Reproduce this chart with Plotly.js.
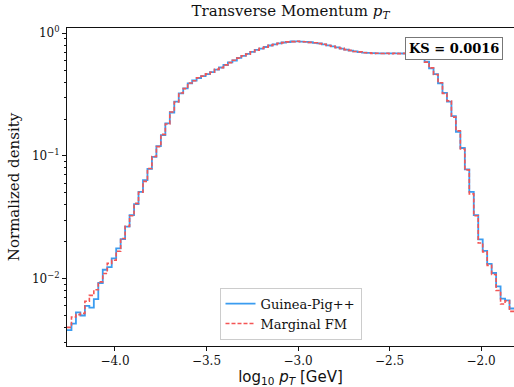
<!DOCTYPE html>
<html>
<head>
<meta charset="utf-8">
<script src="https://cdn.plot.ly/plotly-3.0.1.min.js"></script>
<style>html,body{margin:0;padding:0;background:#fff;}#chart{width:514px;height:387px;}</style>
</head>
<body>
<div id="chart"></div>
<script>
// Histogram binning (log10 pT)
const binLo = -4.262;
const binHi = -1.82;
const nBins = 100;

// Normalized density per bin: Guinea-Pig++
const guineaPig = [
  0.0038, 0.0043, 0.0053, 0.0050, 0.0060, 0.0058, 0.0068, 0.0092, 0.0118, 0.0124,
  0.0146, 0.0176, 0.0210, 0.0265, 0.0329, 0.0404, 0.0509, 0.0634, 0.0785, 0.0984,
  0.120, 0.148, 0.184, 0.226, 0.277, 0.324, 0.356, 0.391, 0.412, 0.432,
  0.448, 0.465, 0.483, 0.506, 0.526, 0.551, 0.578, 0.600, 0.629, 0.653,
  0.678, 0.704, 0.731, 0.751, 0.773, 0.795, 0.811, 0.826, 0.841, 0.849,
  0.857, 0.858, 0.855, 0.851, 0.845, 0.836, 0.826, 0.812, 0.797, 0.782,
  0.766, 0.751, 0.737, 0.723, 0.712, 0.703, 0.696, 0.691, 0.688, 0.686,
  0.686, 0.685, 0.685, 0.686, 0.685, 0.684, 0.680, 0.672, 0.655, 0.627,
  0.586, 0.518, 0.465, 0.391, 0.327, 0.277, 0.211, 0.157, 0.116, 0.0776,
  0.0509, 0.0329, 0.0209, 0.0168, 0.0132, 0.0111, 0.00865, 0.00687, 0.00665, 0.0057
];

// Normalized density per bin: Marginal FM
const marginalFM = [
  0.0040, 0.00486, 0.00508, 0.0052, 0.00653, 0.0073, 0.0081, 0.0094, 0.0110, 0.0133,
  0.0141, 0.0167, 0.0212, 0.0267, 0.0325, 0.0410, 0.0505, 0.0620, 0.0790, 0.0990,
  0.119, 0.150, 0.182, 0.228, 0.275, 0.326, 0.354, 0.393, 0.410, 0.434,
  0.447, 0.467, 0.481, 0.508, 0.524, 0.553, 0.576, 0.602, 0.627, 0.655,
  0.676, 0.706, 0.729, 0.753, 0.771, 0.797, 0.809, 0.828, 0.839, 0.851,
  0.855, 0.860, 0.853, 0.853, 0.843, 0.838, 0.824, 0.814, 0.795, 0.784,
  0.764, 0.753, 0.735, 0.725, 0.710, 0.705, 0.694, 0.693, 0.686, 0.688,
  0.684, 0.687, 0.683, 0.688, 0.683, 0.686, 0.678, 0.674, 0.653, 0.629,
  0.582, 0.522, 0.461, 0.395, 0.323, 0.281, 0.207, 0.160, 0.114, 0.0770,
  0.0490, 0.0325, 0.0195, 0.0165, 0.0128, 0.0108, 0.0080, 0.0062, 0.0066, 0.0054
];

const seriesNames = ['Guinea-Pig++', 'Marginal FM'];
const ksText = 'KS = 0.0016';

const xTickVals = [-4.0, -3.5, -3.0, -2.5, -2.0];
const xTickText = ['\u22124.0', '\u22123.5', '\u22123.0', '\u22122.5', '\u22122.0'];
const yTickVals = [0.01, 0.1, 1];
const yTickText = ['10<sup>\u22122</sup>', '10<sup>\u22121</sup>', '10<sup>0</sup>'];

// build step coordinates from bin edges
const binW = (binHi - binLo) / nBins;
const edges = [];
for (let i = 0; i <= nBins; i++) edges.push(binLo + i * binW);
function stepY(vals) { return vals.concat([vals[vals.length - 1]]); }

const yMinor = [];
[0.001, 0.01, 0.1, 1].forEach(d => { for (let m = 2; m <= 9; m++) yMinor.push(d * m); });

const serif = 'DejaVu Serif, serif';
const sans = 'DejaVu Sans, sans-serif';

const traces = [
  {
    x: edges, y: stepY(guineaPig), name: seriesNames[0], type: 'scatter', mode: 'lines',
    line: {shape: 'hv', color: '#3a9cf0', width: 1.8}
  },
  {
    x: edges, y: stepY(marginalFM), name: seriesNames[1], type: 'scatter', mode: 'lines',
    line: {shape: 'hv', color: '#f45555', width: 1.6, dash: '4px,2px'}
  }
];

const layout = {
  width: 514, height: 387,
  margin: {l: 67, r: 0, t: 28, b: 41},
  paper_bgcolor: '#fff', plot_bgcolor: '#fff',
  showlegend: true,
  title: {text: 'Transverse Momentum <i>p</i><sub><i>T</i></sub>', font: {family: serif, size: 15, color: '#111'},
          x: 0.5, xanchor: 'center', xref: 'paper', y: 0.985, yanchor: 'top'},
  xaxis: {
    range: [binLo, binHi], showgrid: false, zeroline: false,
    showline: true, mirror: true, linecolor: '#111', linewidth: 1,
    ticks: 'outside', ticklen: 4, tickcolor: '#111',
    tickmode: 'array', tickvals: xTickVals, ticktext: xTickText,
    tickfont: {family: serif, size: 12, color: '#111'},
    title: {text: 'log<sub>10</sub> <i>p</i><sub><i>T</i></sub> [GeV]', font: {family: sans, size: 15, color: '#111'}, standoff: 6}
  },
  yaxis: {
    type: 'log', range: [Math.log10(0.00282), 0.043], showgrid: false, zeroline: false,
    showline: true, mirror: true, linecolor: '#111', linewidth: 1,
    ticks: 'outside', ticklen: 4, tickcolor: '#111',
    tickmode: 'array', tickvals: yTickVals, ticktext: yTickText,
    tickfont: {family: serif, size: 12, color: '#111'},
    minor: {tickmode: 'array', tickvals: yMinor, ticks: 'outside', ticklen: 2, tickcolor: '#111', showgrid: false},
    title: {text: 'Normalized density', font: {family: serif, size: 15, color: '#111'}, standoff: 8}
  },
  legend: {
    x: 0.5, xanchor: 'center', y: 0.02, yanchor: 'bottom',
    bgcolor: 'rgba(255,255,255,0.85)', bordercolor: '#cccccc', borderwidth: 1,
    font: {family: serif, size: 13, color: '#111'}, tracegroupgap: 2
  },
  annotations: [{
    text: '<b>' + ksText + '</b>', xref: 'paper', yref: 'paper', x: 0.866, y: 0.935,
    xanchor: 'center', yanchor: 'middle', showarrow: false,
    font: {family: serif, size: 13, color: '#000'},
    bgcolor: '#ffffff', bordercolor: '#777', borderwidth: 1, borderpad: 3
  }]
};

Plotly.newPlot('chart', traces, layout, {displayModeBar: false, staticPlot: true});
</script>
</body>
</html>
